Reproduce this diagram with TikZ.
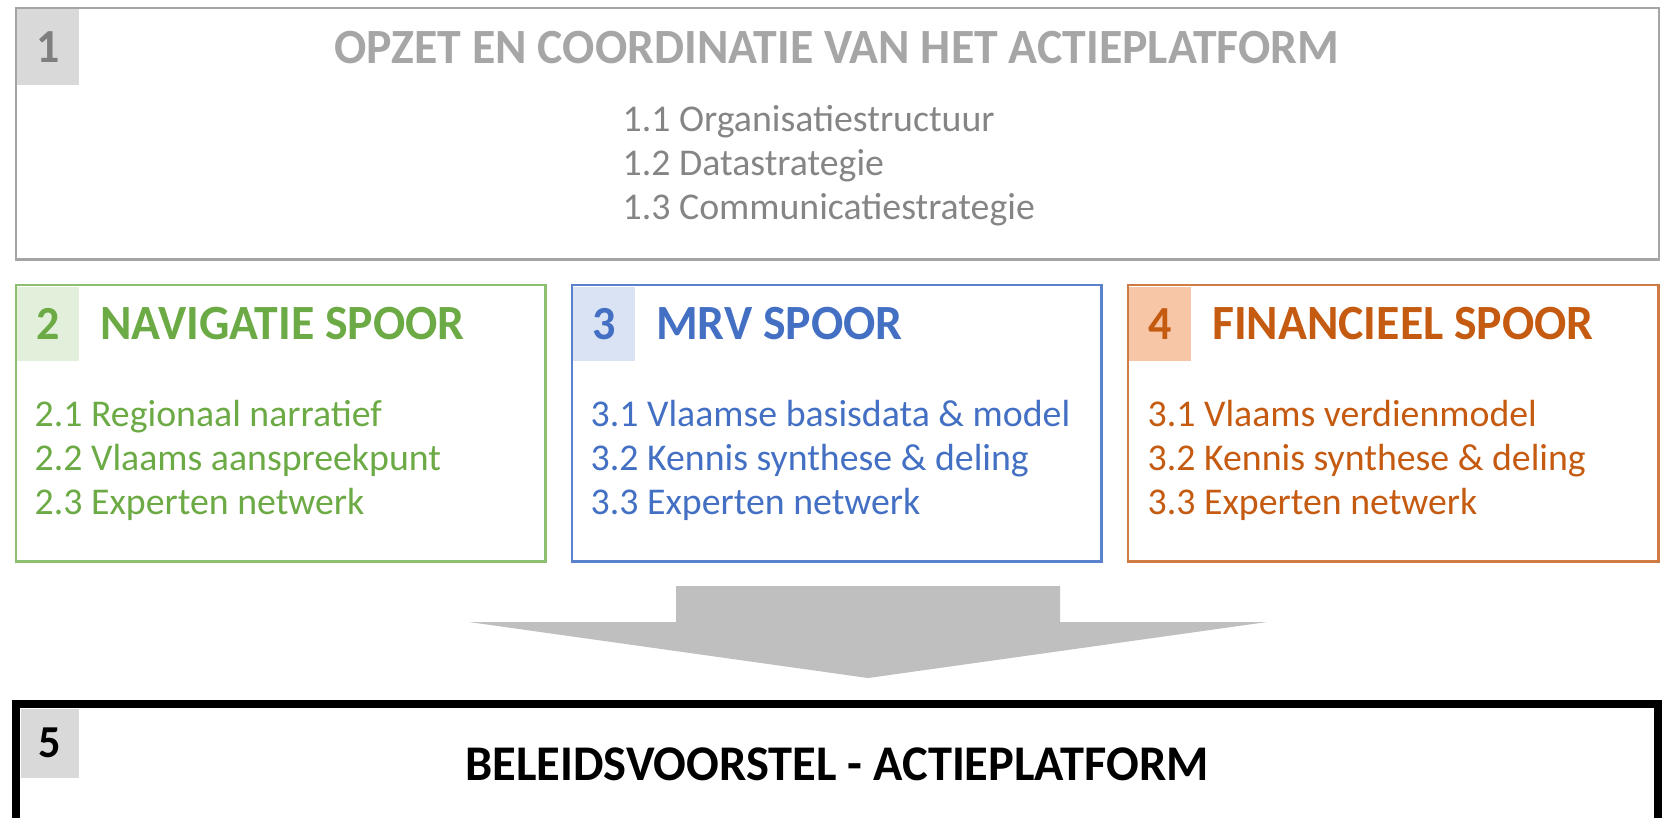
\documentclass[tikz,border=0pt]{standalone}
\usepackage{fontspec}
\setmainfont{Carlito}
\newfontfamily\kopfont[FakeStretch=0.97]{Carlito}
\usetikzlibrary{positioning,calc}
\definecolor{grijslijn}{HTML}{A5A5A5}
\definecolor{grijskop}{HTML}{A6A6A6}
\definecolor{grijsnr}{HTML}{7F7F7F}
\definecolor{grijsvak}{HTML}{D9D9D9}
\definecolor{grijstekst}{HTML}{858585}
\definecolor{groen}{HTML}{6CAA45}
\definecolor{groenlijn}{HTML}{8CC070}
\definecolor{groenvak}{HTML}{E2EFDA}
\definecolor{blauw}{HTML}{4470C4}
\definecolor{blauwlijn}{HTML}{5A82CC}
\definecolor{blauwvak}{HTML}{DAE3F3}
\definecolor{oranje}{HTML}{C55A11}
\definecolor{oranjelijn}{HTML}{D07A44}
\definecolor{oranjevak}{HTML}{F6C6A6}
\definecolor{pijlgrijs}{HTML}{BFBFBF}

\begin{document}
\begin{tikzpicture}[x=0.01cm,y=-0.01cm,
	kader/.style={draw=#1, line width=0.7pt, anchor=north west, minimum width=5.29cm, minimum height=2.76cm, inner sep=0pt},
	nummer/.style={fill=#1, anchor=north west, minimum width=0.62cm, minimum height=0.74cm, inner sep=0pt, font=\kopfont\bfseries\fontsize{13.5}{13.5}\selectfont},
	kop/.style={anchor=west, inner sep=0pt, font=\kopfont\bfseries\fontsize{14}{14}\selectfont},
	punten/.style={anchor=north west, align=left, inner sep=0pt, font=\fontsize{10.75}{12.4}\selectfont}]
	\useasboundingbox (0,0) rectangle (1667,817);

	\node[kader=grijslijn, minimum width=16.42cm, minimum height=2.51cm] (opzet) at (15,7) {};
	\node[nummer=grijsvak, text=grijsnr, minimum height=0.76cm] (nr1) at ([shift={(1,1)}]opzet.north west) {1};
	\node[kop, anchor=center, text=grijskop] (kop1) at (837,48) {OPZET EN COORDINATIE VAN HET ACTIEPLATFORM};
	\node[punten, text=grijstekst] (lijst1) at (622,105) {1.1 Organisatiestructuur\\1.2 Datastrategie\\1.3 Communicatiestrategie};

	\node[kader=groenlijn] (navigatie) at (15,284) {};
	\node[nummer=groenvak, text=groen] (nr2) at ([shift={(1,2)}]navigatie.north west) {2};
	\node[kop, text=groen, right=0.2cm of nr2] (kop2) {NAVIGATIE SPOOR};
	\node[punten, text=groen] (lijst2) at (34,400) {2.1 Regionaal narratief\\2.2 Vlaams aanspreekpunt\\2.3 Experten netwerk};

	\node[kader=blauwlijn] (mrv) at (571,284) {};
	\node[nummer=blauwvak, text=blauw] (nr3) at ([shift={(1,2)}]mrv.north west) {3};
	\node[kop, text=blauw, right=0.2cm of nr3] (kop3) {MRV SPOOR};
	\node[punten, text=blauw] (lijst3) at (590,400) {3.1 Vlaamse basisdata \& model\\3.2 Kennis synthese \& deling\\3.3 Experten netwerk};

	\node[kader=oranjelijn, minimum width=5.3cm] (financieel) at (1127,284) {};
	\node[nummer=oranjevak, text=oranje] (nr4) at ([shift={(1,2)}]financieel.north west) {4};
	\node[kop, text=oranje, right=0.2cm of nr4] (kop4) {FINANCIEEL SPOOR};
	\node[punten, text=oranje] (lijst4) at (1147,400) {3.1 Vlaams verdienmodel\\3.2 Kennis synthese \& deling\\3.3 Experten netwerk};

	\fill[pijlgrijs] (676,586) -- (1060,586) -- (1060,622) -- (1267,622) -- (868,678) -- (469,622) -- (676,622) -- cycle;

	\node[anchor=north west, minimum width=16.4cm, minimum height=1.13cm, inner sep=0pt] (beleid) at (16,704) {};
	\draw[line width=2.3pt] (beleid.south west) -- (beleid.north west) -- (beleid.north east) -- (beleid.south east);
	\node[nummer=grijsvak, minimum width=0.58cm, minimum height=0.69cm, font=\kopfont\bfseries\fontsize{13}{13}\selectfont] (nr5) at ([shift={(4,4)}]beleid.north west) {5};
	\node[kop, anchor=center, font=\kopfont\bfseries\fontsize{14.2}{14.2}\selectfont] (kop5) at (837,764) {BELEIDSVOORSTEL - ACTIEPLATFORM};
\end{tikzpicture}
\end{document}
